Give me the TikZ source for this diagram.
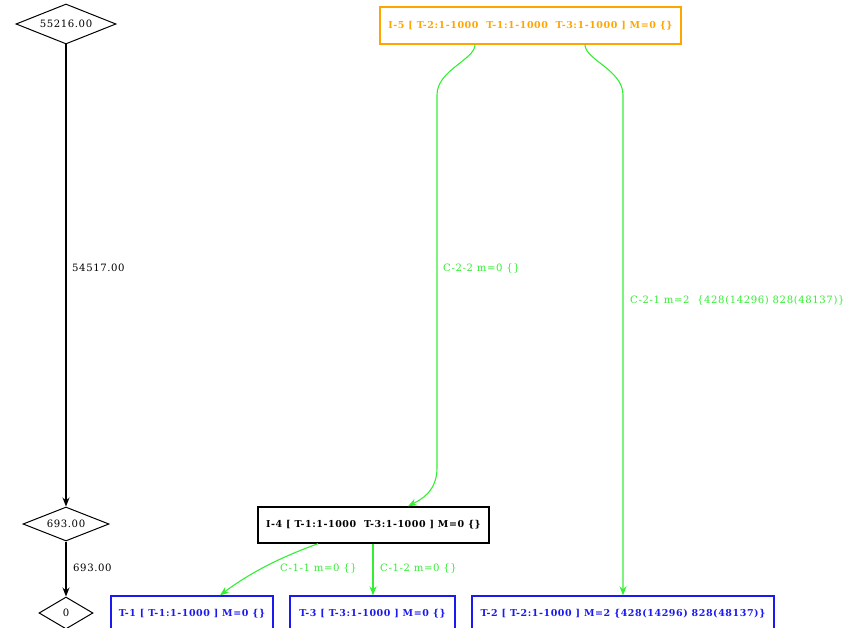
\documentclass[tikz,border=0pt]{standalone}
\usepackage{fontspec}
\setmainfont{DejaVu Serif}
\newfontfamily\gfont[LetterSpace=6]{DejaVu Serif}
\usetikzlibrary{shapes.geometric,arrows.meta}
\definecolor{edgegreen}{HTML}{33EE33}
\definecolor{boxorange}{HTML}{FFA500}
\definecolor{boxblue}{HTML}{1A1AEE}
\tikzset{
  txt/.style={font=\gfont\fontsize{10.1}{11}\selectfont, inner sep=0pt},
  btxt/.style={font=\gfont\bfseries\fontsize{9.5}{11}\selectfont, inner sep=0pt},
  dnode/.style={diamond, shape aspect=2.5, draw=black, line width=1pt, inner sep=0pt, txt},
  rbox/.style={rectangle, draw, line width=1.4pt, inner sep=0pt, btxt},
  flow/.style={draw=black, line width=1.2pt, -{Stealth[length=9pt,width=7pt]}},
  gflow/.style={draw=edgegreen, line width=1.1pt, -{Stealth[length=9pt,width=7pt,fill=edgegreen]}},
  elabel/.style={txt, anchor=west},
}
\begin{document}
\begin{tikzpicture}[x=1pt,y=-1pt]
\useasboundingbox (0,0) rectangle (857,628);
\clip (0,0) rectangle (857,628);
% left chain of value diamonds
\node[dnode, minimum width=100pt, minimum height=40pt] (d1) at (66,24) {55216.00};
\node[dnode, minimum width=86pt, minimum height=34pt] (d2) at (66,524) {693.00};
\node[dnode, minimum width=54pt, minimum height=32pt] (d3) at (66,613) {0};
\draw[flow] (d1) -- (d2);
\draw[flow] (d2) -- (d3);
\node[elabel, black] (l1) at (72,268) {54517.00};
\node[elabel, black] (l2) at (73,568) {693.00};
% boxes
\node[rbox, draw=boxorange, text=boxorange, minimum width=301pt, minimum height=37pt] (i5) at (530.5,25.5) {I-5 [ T-2:1-1000\ \ T-1:1-1000\ \ T-3:1-1000 ] M=0 \{\}};
\node[rbox, draw=black, text=black, minimum width=231pt, minimum height=36pt] (i4) at (373.5,525) {I-4 [ T-1:1-1000\ \ T-3:1-1000 ] M=0 \{\}};
\node[rbox, draw=boxblue, text=boxblue, minimum width=162pt, minimum height=36pt] (t1) at (192,614) {T-1 [ T-1:1-1000 ] M=0 \{\}};
\node[rbox, draw=boxblue, text=boxblue, minimum width=165pt, minimum height=36pt] (t3) at (372.5,614) {T-3 [ T-3:1-1000 ] M=0 \{\}};
\node[rbox, draw=boxblue, text=boxblue, minimum width=302pt, minimum height=36pt] (t2) at (623,614) {T-2 [ T-2:1-1000 ] M=2 \{428(14296) 828(48137)\}};
% green edges
\draw[gflow] ([xshift=-55.5pt]i5.south) .. controls +(0,15) and +(0,-25) .. (437,95) -- (437,468) .. controls (437,492) and (420,500) .. ([xshift=34.5pt]i4.north);
\draw[gflow] ([xshift=54.5pt]i5.south) .. controls +(0,15) and +(0,-25) .. (623,95) -- (t2.north);
\draw[gflow] ([xshift=-55.5pt]i4.south) .. controls +(-50,18) and +(20,-15) .. ([xshift=28pt]t1.north);
\draw[gflow] ([xshift=-0.5pt]i4.south) -- ([xshift=0.5pt]t3.north);
\node[elabel, text=edgegreen] (c22) at (443,268) {C-2-2 m=0 \{\}};
\node[elabel, text=edgegreen] (c21) at (630,300) {C-2-1 m=2\ \ \{428(14296) 828(48137)\}};
\node[elabel, text=edgegreen] (c11) at (280,568) {C-1-1 m=0 \{\}};
\node[elabel, text=edgegreen] (c12) at (380,568) {C-1-2 m=0 \{\}};
\end{tikzpicture}
\end{document}
